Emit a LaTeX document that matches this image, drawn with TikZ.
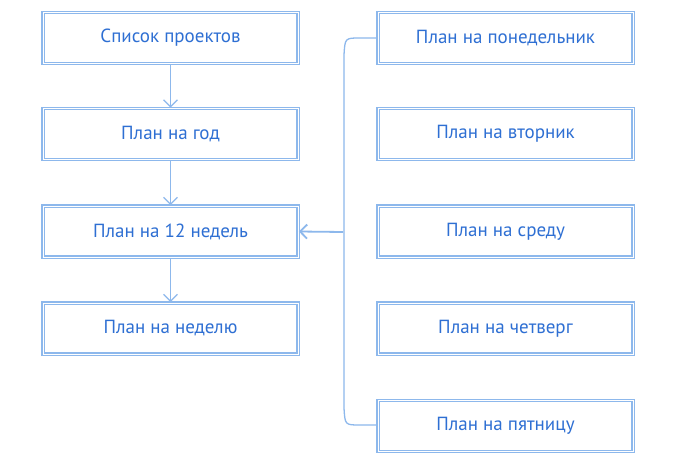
\documentclass[tikz,border=0pt]{standalone}
\usepackage{fontspec}
\setmainfont{PT Sans}
\usetikzlibrary{arrows.meta}
\definecolor{edge}{HTML}{8DB8EC}
\definecolor{txt}{HTML}{2E6FD3}
\begin{document}
\begin{tikzpicture}[x=1pt,y=-1pt,
  box/.style={draw=edge,line width=1.6pt,minimum width=255pt,minimum height=51pt,inner sep=0pt,
    text=txt,font=\fontsize{19}{22}\selectfont,double=white,double distance=0.6pt},
  conn/.style={draw=edge,line width=1.3pt},
  arr/.style={conn,-{Straight Barb[length=7pt,width=14pt]}}]
\useasboundingbox[fill=white] (0,0) rectangle (676,465);
\node[box] (l1) at (170.5,38) {Список проектов};
\node[box] (l2) at (170.5,134) {План на год};
\node[box] (l3) at (170.5,231.5) {План на 12 недель};
\node[box] (l4) at (170.5,328.5) {План на неделю};
\node[box] (r1) at (505.5,38) {План на понедельник};
\node[box] (r2) at (505.5,134) {План на вторник};
\node[box] (r3) at (505.5,231.5) {План на среду};
\node[box] (r4) at (505.5,328.5) {План на четверг};
\node[box] (r5) at (505.5,426) {План на пятницу};
\draw[arr] (l1) -- (l2);
\draw[arr] (l2) -- (l3);
\draw[arr] (l3) -- (l4);
\coordinate (m) at (343,232);
\draw[conn] (r1.west) -- (360,38) .. controls (345,38) .. (344,55) -- (344,408) .. controls (345,425) .. (360,425) -- (r5.west |- 0,425);
\draw[arr,line width=1.8pt] (m) -- (l3.east);
\end{tikzpicture}
\end{document}
